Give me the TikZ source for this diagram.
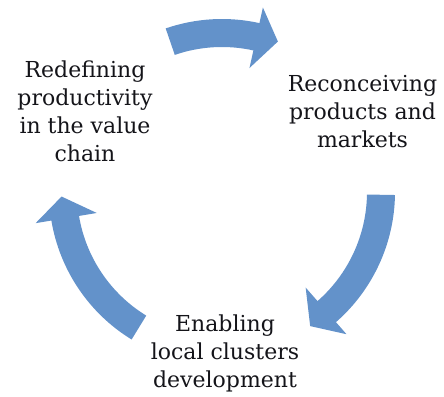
\documentclass[tikz,border=0pt]{standalone}
\usepackage{fontspec}
\setmainfont{DejaVu Serif}
\usetikzlibrary{calc}
\definecolor{arrowblue}{RGB}{99,146,202}
\definecolor{textdark}{RGB}{20,20,25}
\newcommand{\cycarrow}[2]{%
  \fill[arrowblue]
    ($(c)+(#1:173)$) arc[start angle=#1, end angle=#2, radius=173]
    -- ($(c)+(#2:189)$)
    -- ($(c)+(#2:159)+(#2-90:22)$)
    -- ($(c)+(#2:127)$)
    -- ($(c)+(#2:145)$) arc[start angle=#2, end angle=#1, radius=145]
    -- cycle;}
\begin{document}
\begin{tikzpicture}[x=1pt,y=1pt,
  steplabel/.style={align=center, inner sep=0pt, anchor=base, text=textdark,
    font=\fontsize{22}{28}\selectfont}]
\useasboundingbox (0,0) rectangle (444,396);
\coordinate (c) at (222,204);
\cycarrow{109}{77.5}
\cycarrow{-1}{-48.8}
\cycarrow{238.5}{189.5}
\node[steplabel] (redef) at (85,234) {Redefining\\productivity\\in the value\\chain};
\node[steplabel] (recon) at (362.5,248) {Reconceiving\\products and\\markets};
\node[steplabel] (enab) at (225,9) {Enabling\\local clusters\\development};
\end{tikzpicture}
\end{document}
